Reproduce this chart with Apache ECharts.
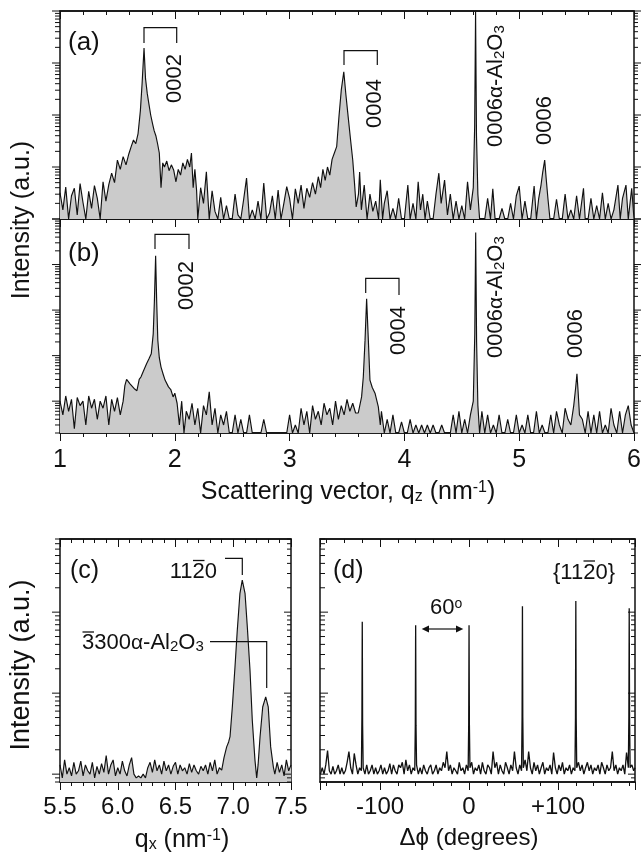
<!DOCTYPE html>
<html><head><meta charset="utf-8">
<script src="https://cdn.jsdelivr.net/npm/echarts@6/dist/echarts.min.js"></script>
<style>html,body{margin:0;padding:0;background:#fff}#c{width:642px;height:857px}</style>
</head><body><div id="c"></div>
<script>
// ---------- DATA ----------
// (a) specular scan, [qz (nm^-1), intensity (a.u.)]
const scanA = [
[1.000,3.2],[1.025,1.5],[1.050,4.1],[1.075,1.0],[1.100,2.8],[1.125,3.9],[1.150,1.2],[1.175,4.8],[1.200,2.1],[1.225,1.0],
[1.250,3.4],[1.275,1.6],[1.300,4.4],[1.325,2.5],[1.350,1.0],[1.375,5.2],[1.400,2.2],[1.425,4.6],[1.450,7.6],[1.475,5.0],
[1.500,13.6],[1.525,9.0],[1.550,15.8],[1.575,11.0],[1.600,18.0],[1.620,24.6],[1.640,33],[1.660,28],[1.680,44],[1.700,120],
[1.715,400],[1.732,1950],[1.745,500],[1.760,260],[1.775,160],[1.790,100],[1.805,70],[1.820,50],[1.835,40],[1.850,28],
[1.865,18.6],[1.880,4.0],[1.895,12],[1.910,10],[1.930,13],[1.950,8.5],[1.970,11],[1.990,8.8],[2.010,5.2],[2.030,9],
[2.050,7],[2.070,12],[2.090,9],[2.110,14],[2.130,10],[2.145,18.6],[2.160,4.0],[2.175,9],[2.190,3.5],[2.200,1.0],
[2.225,4.0],[2.250,2.0],[2.275,8.1],[2.300,1.0],[2.325,3.5],[2.350,1.4],[2.375,1.0],[2.400,2.6],[2.425,1.0],[2.450,1.8],
[2.475,1.0],[2.500,1.0],[2.525,3.0],[2.550,1.2],[2.575,1.0],[2.600,2.4],[2.625,6.1],[2.650,1.0],[2.675,1.5],[2.700,1.0],
[2.725,2.2],[2.750,1.0],[2.775,4.9],[2.800,1.0],[2.825,1.3],[2.850,2.8],[2.875,1.0],[2.900,3.6],[2.925,1.0],[2.950,2.0],
[2.975,4.2],[3.000,2.5],[3.025,1.0],[3.050,3.8],[3.075,2.0],[3.100,4.5],[3.125,1.6],[3.150,3.9],[3.175,2.6],[3.200,5.0],
[3.225,3.0],[3.250,6.5],[3.270,4.0],[3.290,9.0],[3.310,5.5],[3.330,10],[3.350,7],[3.370,14],[3.390,18.6],[3.410,24.6],
[3.430,93],[3.450,300],[3.472,680],[3.490,250],[3.510,93],[3.530,35],[3.550,13.6],[3.565,5],[3.580,1.7],[3.600,3.0],
[3.610,8.0],[3.625,1.5],[3.650,4.5],[3.675,1.0],[3.700,3.0],[3.725,1.4],[3.750,2.2],[3.775,1.0],[3.790,5.7],[3.810,1.0],
[3.825,2.0],[3.850,3.5],[3.875,1.0],[3.900,1.6],[3.925,1.0],[3.950,2.5],[3.975,1.0],[4.000,1.0],[4.030,4.5],[4.050,1.0],
[4.075,2.0],[4.100,1.0],[4.120,5.2],[4.140,1.5],[4.160,3.0],[4.180,1.0],[4.200,2.2],[4.225,1.0],[4.250,1.0],[4.275,3.0],
[4.300,7.6],[4.320,2.0],[4.350,5.6],[4.375,1.2],[4.400,3.0],[4.425,1.0],[4.450,2.2],[4.475,1.0],[4.500,1.8],[4.525,1.0],
[4.550,5.2],[4.575,1.5],[4.600,4],[4.612,60],[4.620,9800],[4.628,40],[4.640,3],[4.655,1.0],[4.675,1.0],[4.700,1.0],
[4.725,2.5],[4.750,1.0],[4.770,3.8],[4.790,1.0],[4.825,1.0],[4.850,1.6],[4.875,1.0],[4.900,1.0],[4.925,2.0],[4.950,1.0],
[4.975,2.8],[5.000,4.3],[5.025,1.0],[5.050,2.2],[5.075,1.0],[5.100,1.0],[5.130,4.3],[5.150,1.0],[5.170,2.5],[5.190,4.5],
[5.205,8],[5.222,13.6],[5.235,6],[5.250,2.5],[5.268,1.0],[5.300,1.0],[5.325,2.4],[5.350,1.0],[5.375,1.0],[5.400,3.0],
[5.425,1.0],[5.450,1.5],[5.475,1.0],[5.500,2.8],[5.525,1.0],[5.560,3.9],[5.575,1.0],[5.600,1.0],[5.625,2.5],[5.650,1.0],
[5.675,1.8],[5.700,1.0],[5.725,3.2],[5.750,1.0],[5.775,2.0],[5.800,1.0],[5.825,1.5],[5.860,4.5],[5.880,1.0],[5.900,2.5],
[5.930,4.5],[5.950,1.0],[5.980,3.9],[6.000,1.0]
];
// (b) specular scan, [qz, intensity]
const scanB = [
[1.000,1.0],[1.025,0.5],[1.050,1.3],[1.075,0.6],[1.100,1.1],[1.125,0.25],[1.150,1.2],[1.175,0.8],[1.200,1.0],[1.225,0.3],
[1.250,1.3],[1.275,0.7],[1.300,1.1],[1.325,0.4],[1.350,1.0],[1.375,0.7],[1.400,1.3],[1.425,0.3],[1.450,1.1],[1.475,0.6],
[1.500,1.2],[1.525,0.5],[1.550,1.0],[1.565,2.2],[1.580,3.0],[1.595,3.2],[1.610,2.4],[1.625,2.6],[1.645,1.9],[1.670,1.7],
[1.690,3.0],[1.705,3.4],[1.725,4.5],[1.740,5.5],[1.755,6.7],[1.775,8.5],[1.795,11],[1.812,30],[1.822,150],[1.833,1560],
[1.842,160],[1.852,22],[1.865,9],[1.880,5.6],[1.900,3.8],[1.915,2.9],[1.930,3.2],[1.945,2.06],[1.965,1.8],[1.985,1.24],
[2.000,1.5],[2.020,0.9],[2.040,0.3],[2.060,1.0],[2.080,0.2],[2.100,0.6],[2.125,0.4],[2.150,0.9],[2.175,0.3],[2.200,0.7],
[2.225,0.2],[2.250,0.8],[2.275,0.5],[2.300,1.6],[2.325,0.3],[2.350,0.7],[2.375,0.2],[2.400,0.5],[2.425,0.3],[2.450,0.6],
[2.475,0.2],[2.500,0.2],[2.525,0.5],[2.550,0.2],[2.575,0.4],[2.600,0.2],[2.625,0.2],[2.650,0.5],[2.675,0.2],[2.700,0.2],
[2.725,0.2],[2.750,0.2],[2.775,0.4],[2.800,0.2],[2.825,0.2],[2.850,0.2],[2.875,0.2],[2.900,0.2],[2.925,0.2],[2.950,0.2],
[2.975,0.2],[3.000,0.5],[3.025,0.2],[3.050,0.3],[3.075,0.2],[3.100,0.7],[3.125,0.3],[3.150,0.6],[3.175,0.2],[3.200,0.8],
[3.225,0.4],[3.250,0.6],[3.275,0.3],[3.300,0.9],[3.325,0.5],[3.350,0.7],[3.375,0.3],[3.400,1.0],[3.425,0.4],[3.450,0.8],
[3.475,0.5],[3.500,1.1],[3.525,0.6],[3.550,0.9],[3.575,0.55],[3.598,0.55],[3.627,1.24],[3.642,3.4],[3.657,21.6],[3.671,177],
[3.686,21.6],[3.700,2.9],[3.720,2.0],[3.744,1.5],[3.773,0.75],[3.790,0.3],[3.800,0.6],[3.825,0.2],[3.850,0.4],[3.875,0.2],
[3.900,0.5],[3.925,0.2],[3.950,0.2],[3.975,0.35],[4.000,0.2],[4.025,0.2],[4.050,0.4],[4.075,0.2],[4.100,0.3],[4.125,0.2],
[4.150,0.3],[4.175,0.2],[4.200,0.3],[4.225,0.2],[4.250,0.3],[4.275,0.2],[4.300,0.2],[4.325,0.3],[4.350,0.2],[4.375,0.2],
[4.400,0.2],[4.425,0.5],[4.450,0.2],[4.475,0.6],[4.500,0.2],[4.525,0.4],[4.550,0.2],[4.575,0.5],[4.600,1.0],[4.613,30],
[4.621,5060],[4.629,20],[4.640,0.8],[4.655,0.2],[4.675,0.6],[4.700,0.2],[4.725,0.5],[4.750,0.2],[4.775,0.3],[4.800,0.2],
[4.825,0.5],[4.850,0.2],[4.875,0.2],[4.900,0.4],[4.925,0.2],[4.950,0.2],[4.975,0.5],[5.000,0.2],[5.025,0.3],[5.050,0.2],
[5.075,0.5],[5.100,0.2],[5.125,0.2],[5.150,0.6],[5.175,0.2],[5.200,0.3],[5.225,0.2],[5.250,0.2],[5.275,0.5],[5.300,0.2],
[5.325,0.6],[5.350,0.3],[5.375,0.2],[5.400,0.7],[5.425,0.4],[5.450,0.3],[5.475,0.8],[5.492,2.0],[5.503,4.0],[5.512,1.8],
[5.525,0.5],[5.550,0.4],[5.575,0.2],[5.600,0.6],[5.625,0.2],[5.650,0.5],[5.675,0.2],[5.700,0.6],[5.725,0.2],[5.750,0.3],
[5.775,0.2],[5.800,0.7],[5.825,0.3],[5.850,0.2],[5.875,0.6],[5.900,0.2],[5.925,0.5],[5.950,0.8],[5.975,0.3],[6.000,0.2]
];
// (c) in-plane radial scan, [qx (nm^-1), intensity]
const scanC = [
[5.50,1.3],[5.52,0.9],[5.54,1.5],[5.56,1.0],[5.58,1.2],[5.60,0.95],[5.62,1.4],[5.64,1.0],[5.66,1.1],[5.68,1.45],
[5.70,0.95],[5.72,1.3],[5.74,1.1],[5.76,1.0],[5.78,1.4],[5.80,0.9],[5.82,1.25],[5.84,1.0],[5.86,1.35],[5.88,1.05],
[5.90,1.7],[5.92,1.0],[5.94,1.3],[5.96,1.5],[5.98,0.95],[6.00,1.2],[6.02,1.0],[6.04,1.45],[6.06,1.1],[6.08,0.95],
[6.10,1.3],[6.12,1.6],[6.14,1.0],[6.16,0.9],[6.18,0.95],[6.20,0.9],[6.22,1.0],[6.24,0.9],[6.26,1.2],[6.28,1.4],
[6.30,1.05],[6.32,1.5],[6.34,1.1],[6.36,1.3],[6.38,1.0],[6.40,1.45],[6.42,1.1],[6.44,1.3],[6.46,1.0],[6.48,1.25],
[6.50,1.4],[6.52,1.0],[6.54,1.3],[6.56,1.1],[6.58,1.2],[6.60,1.0],[6.62,1.35],[6.64,1.05],[6.66,1.3],[6.68,1.1],
[6.70,1.0],[6.72,1.25],[6.74,1.1],[6.76,1.3],[6.78,1.0],[6.80,1.4],[6.82,1.1],[6.84,1.5],[6.86,1.0],[6.88,1.2],
[6.90,1.12],[6.92,1.6],[6.943,2.17],[6.96,2.5],[6.972,2.9],[6.992,6.75],[7.015,21],[7.035,60],[7.058,171],[7.078,248],
[7.102,171],[7.122,65],[7.145,19.2],[7.165,4.6],[7.188,1.49],[7.203,0.9],[7.215,1.3],[7.232,2.9],[7.255,6.75],[7.281,9.0],
[7.303,6.75],[7.324,2.17],[7.347,1.23],[7.36,1.0],[7.38,1.4],[7.40,1.05],[7.42,1.3],[7.44,0.95],[7.46,1.5],[7.48,1.1],[7.50,1.3]
];
// (d) azimuthal scan, [delta phi (deg), intensity]
const scanD = [
[-167,1.0],[-165,1.2],[-163,1.0],[-161,1.3],[-159,1.95],[-157,1.1],[-155,1.0],[-153,1.25],[-151,1.0],[-149,1.1],
[-147,1.3],[-145,1.0],[-143,1.2],[-141,1.0],[-139,1.1],[-137,1.4],[-135,1.9],[-133,1.2],[-131,1.0],[-129,1.8],
[-127,1.3],[-125,1.0],[-123,1.2],[-121,1.1],[-120.4,5],[-120,76],[-119.6,4],[-119,1.2],[-117,1.0],[-115,1.3],
[-113,1.0],[-111,1.1],[-109,1.3],[-107,1.0],[-105,1.2],[-103,1.0],[-101,1.1],[-99,1.3],[-97,1.0],[-95,1.2],
[-93,1.0],[-91,1.1],[-89,1.35],[-87,1.0],[-85,1.3],[-83,1.1],[-81,1.0],[-79,1.3],[-77,1.2],[-75,1.4],
[-73,1.0],[-71,1.5],[-69,1.1],[-67,1.3],[-65,1.0],[-63,1.2],[-61,1.1],[-60.4,4],[-60,69],[-59.6,4],
[-59,1.3],[-57,1.0],[-55,1.2],[-53,1.0],[-51,1.3],[-49,1.1],[-47,1.0],[-45,1.2],[-43,1.3],[-41,1.0],
[-39,1.1],[-37,1.3],[-35,1.0],[-33,1.2],[-31,1.1],[-29,1.4],[-27,1.2],[-25,1.9],[-23,1.1],[-21,1.3],
[-19,1.0],[-17,1.2],[-15,1.1],[-13,1.0],[-11,1.4],[-9,1.1],[-7,1.2],[-5,1.0],[-3,1.3],[-1,1.1],
[-0.4,4],[0,69],[0.4,4],[1,1.2],[3,1.4],[5,1.0],[7,1.2],[9,1.1],[11,1.3],[13,1.0],
[15,1.4],[17,1.1],[19,1.0],[21,1.3],[23,1.2],[25,1.0],[27,1.9],[29,1.2],[31,1.4],[33,1.0],
[35,1.3],[37,1.1],[39,1.0],[41,1.4],[43,1.2],[45,1.0],[47,1.3],[49,1.1],[51,1.9],[53,1.2],
[55,1.0],[57,1.3],[59,1.1],[59.6,5],[60,118],[60.4,5],[61,1.2],[63,1.5],[65,1.1],[67,1.9],
[69,1.2],[71,1.0],[73,1.4],[75,1.1],[77,1.3],[79,1.0],[81,1.2],[83,1.4],[85,1.0],[87,1.2],
[89,1.1],[91,1.3],[93,1.0],[95,1.85],[97,1.2],[99,1.0],[101,1.3],[103,1.1],[105,1.4],[107,1.0],
[109,1.2],[111,1.1],[113,1.3],[115,1.0],[117,1.2],[119,1.1],[119.6,5],[120,137],[120.4,5],[121,1.2],
[123,1.4],[125,1.1],[127,1.3],[129,1.0],[131,1.2],[133,1.4],[135,1.1],[137,1.3],[139,1.0],[141,1.2],
[143,1.1],[145,1.3],[147,1.0],[149,1.4],[151,1.2],[153,1.0],[155,1.3],[157,1.1],[159,1.2],[161,1.9],
[163,1.1],[165,1.3],[167,1.0],[169,1.2],[171,1.1],[173,1.3],[175,1.0],[177,1.85],[179,1.2],[179.6,5],
[180,112],[180.4,5],[181,1.2],[183,1.3],[185,1.1],[186.5,1.2]
];
// tick labels
const qzTicks = [1, 2, 3, 4, 5, 6];
const qzLabels = ['1', '2', '3', '4', '5', '6'];
const qxTicks = [5.5, 6.0, 6.5, 7.0, 7.5];
const qxLabels = ['5.5', '6.0', '6.5', '7.0', '7.5'];
const phiTicks = [-100, 0, 100];
const phiLabels = ['-100', '0', '+100'];

// ---------- CHART ----------
const FONT = '"Liberation Sans", Arial, Helvetica, sans-serif';
const INK = '#111';
const chart = echarts.init(document.getElementById('c'), null, {renderer: 'canvas'});

function lab(ticks, labels) {
  return v => { const i = ticks.findIndex(t => Math.abs(t - v) < 1e-6); return i >= 0 ? labels[i] : ''; };
}
function xa(gi, pos, min, max, extra) {
  return Object.assign({
    type: 'value', gridIndex: gi, position: pos, min: min, max: max,
    axisLine: {show: true, onZero: false, lineStyle: {color: INK, width: 1.5}},
    axisTick: {show: true, inside: pos === 'top', length: 8, lineStyle: {color: INK, width: 1}},
    minorTick: {show: true, splitNumber: 5, length: 4, lineStyle: {color: INK, width: 1}},
    axisLabel: {show: false}, splitLine: {show: false}, minorSplitLine: {show: false}
  }, extra || {});
}
function ya(gi, min, max) {
  return {type: 'log', logBase: 10, gridIndex: gi, min: min, max: max,
    axisLine: {show: false}, axisTick: {show: false}, axisLabel: {show: false}, splitLine: {show: false}};
}
function logTickValues(lo, hi) {
  const out = [];
  for (let d = Math.floor(Math.log10(lo)); d <= Math.ceil(Math.log10(hi)); d++) {
    for (let m = 1; m <= 9; m++) {
      const v = m * Math.pow(10, d);
      if (v >= lo * 0.999 && v <= hi * 1.001) out.push([v, m === 1 ? 1 : 0]);
    }
  }
  return out;
}
// y-axis log ticks (major decades + 2..9 minors) drawn through the axis scale
function ySeries(xi, yi, xAt, lo, hi, leftDir, rightDir) {
  return {
    type: 'custom', xAxisIndex: xi, yAxisIndex: yi, silent: true, clip: false, z: 5, animation: false,
    data: logTickValues(lo, hi).map(t => [xAt, t[0], t[1]]),
    renderItem: function (params, api) {
      const cs = params.coordSys;
      const y = api.coord([api.value(0), api.value(1)])[1];
      const major = api.value(2) === 1;
      const L = major ? 8 : 5, R = major ? 7 : 4;
      return {type: 'group', children: [
        {type: 'line', shape: {x1: cs.x, y1: y, x2: cs.x + leftDir * L, y2: y}, style: {stroke: INK, lineWidth: 1}},
        {type: 'line', shape: {x1: cs.x + cs.width, y1: y, x2: cs.x + cs.width + rightDir * R, y2: y}, style: {stroke: INK, lineWidth: 1}}
      ]};
    }
  };
}
function lineSeries(xi, yi, data, filled, w) {
  const s = {type: 'line', xAxisIndex: xi, yAxisIndex: yi, data: data, symbol: 'none', showSymbol: false,
    lineStyle: {color: INK, width: w || 1.15}, clip: true, animation: false, z: 2};
  if (filled) s.areaStyle = {color: '#cbcbcb', opacity: 1, origin: 'start'};
  return s;
}
const gridBase = {show: true, borderColor: INK, borderWidth: 1.5, backgroundColor: 'transparent', containLabel: false, outerBoundsMode: 'none'};

// annotation helpers
const AF = 22;
function vtext(x, yb, text) {
  return {type: 'text', x: x, y: yb, rotation: Math.PI / 2, z: 50,
    style: {text: text, fontSize: AF, fontFamily: FONT, fill: INK, align: 'left', verticalAlign: 'middle',
      textAlign: 'left', textVerticalAlign: 'middle',
      rich: {g: {fontSize: AF - 1, fontFamily: FONT, fill: INK}, s: {fontSize: 15, fontFamily: FONT, fill: INK, verticalAlign: 'bottom'}}}};
}
function htext(x, y, text, align, size, rich) {
  return {type: 'text', x: x, y: y, z: 50,
    style: {text: text, fontSize: size, fontFamily: FONT, fill: INK, align: align, verticalAlign: 'middle',
      textAlign: align, textVerticalAlign: 'middle', rich: rich || {}}};
}
function pline(points, w) {
  return {type: 'polyline', z: 50, shape: {points: points}, style: {stroke: INK, lineWidth: w || 1.2, fill: null}};
}
const richAx = {
  s: {fontSize: 16, fontFamily: FONT, fill: INK, verticalAlign: 'bottom'},
  p: {fontSize: 16, fontFamily: FONT, fill: INK, verticalAlign: 'top'},
  g: {fontSize: 21, fontFamily: FONT, fill: INK},
  o: {fontSize: 14, fontFamily: FONT, fill: INK, verticalAlign: 'top'}
};

const option = {
  backgroundColor: '#fff',
  animation: false,
  grid: [
    Object.assign({left: 60, top: 11, width: 574, height: 208}, gridBase),
    Object.assign({left: 60, top: 219, width: 574, height: 214}, gridBase),
    Object.assign({left: 60, top: 539, width: 231, height: 243}, gridBase),
    Object.assign({left: 320, top: 539, width: 315, height: 243}, gridBase)
  ],
  xAxis: [
    xa(0, 'bottom', 1, 6, {interval: 1}),
    xa(0, 'top', 1, 6, {interval: 1}),
    xa(1, 'bottom', 1, 6, {interval: 1, axisLabel: {show: true, fontSize: 25, fontFamily: FONT, color: INK, margin: 15, formatter: lab(qzTicks, qzLabels)}}),
    xa(2, 'bottom', 5.5, 7.5, {interval: 0.5, axisLabel: {show: true, fontSize: 24, fontFamily: FONT, color: INK, margin: 13, formatter: lab(qxTicks, qxLabels)}}),
    xa(2, 'top', 5.5, 7.5, {interval: 0.5}),
    xa(3, 'bottom', -167.5, 186.5, {splitNumber: 4, axisLabel: {show: true, fontSize: 24, fontFamily: FONT, color: INK, margin: 13, showMinLabel: false, showMaxLabel: false, formatter: lab(phiTicks, phiLabels)}}),
    xa(3, 'top', -167.5, 186.5, {splitNumber: 4})
  ],
  yAxis: [
    ya(0, 1, 10000),
    ya(1, 0.2, 10000),
    ya(2, 0.8, 800),
    ya(3, 0.8, 800)
  ],
  series: [
    lineSeries(0, 0, scanA, true),
    lineSeries(2, 1, scanB, true),
    lineSeries(3, 2, scanC, true),
    lineSeries(5, 3, scanD, false, 1.3),
    ySeries(0, 0, 1, 1, 10000, -1, 1),
    ySeries(2, 1, 1, 0.2, 10000, -1, 1),
    ySeries(3, 2, 5.5, 0.8, 800, -1, -1),
    ySeries(5, 3, 0, 0.8, 800, 1, -1)
  ],
  graphic: [
    // axis titles
    {type: 'text', x: 22, y: 220, rotation: Math.PI / 2, z: 50,
      style: {text: 'Intensity (a.u.)', fontSize: 25, fontFamily: FONT, fill: INK, align: 'center', verticalAlign: 'middle', textAlign: 'center', textVerticalAlign: 'middle'}},
    {type: 'text', x: 22, y: 665, rotation: Math.PI / 2, z: 50,
      style: {text: 'Intensity (a.u.)', fontSize: 27, fontFamily: FONT, fill: INK, align: 'center', verticalAlign: 'middle', textAlign: 'center', textVerticalAlign: 'middle'}},
    htext(348, 492, 'Scattering vector, q{s|z} (nm{p|-1})', 'center', 25, richAx),
    htext(182, 840, 'q{s|x} (nm{p|-1})', 'center', 25, richAx),
    htext(469, 838, 'Δϕ (degrees)', 'center', 24, richAx),
    // panel letters
    htext(68, 43, '(a)', 'left', 26),
    htext(68, 254, '(b)', 'left', 26),
    htext(70, 571, '(c)', 'left', 25),
    htext(333, 571, '(d)', 'left', 25),
    // (a) annotations
    pline([[144, 43], [144, 27.7], [176.7, 27.7], [176.7, 43]]),
    vtext(175, 103, '0002'),
    pline([[344, 65], [344, 50.7], [377.3, 50.7], [377.3, 65]]),
    vtext(375, 128, '0004'),
    vtext(496, 147, '0006{g|α}-Al{s|2}O{s|3}'),
    vtext(545, 145, '0006'),
    // (b) annotations
    pline([[155, 249], [155, 234.3], [189, 234.3], [189, 249]]),
    vtext(187, 310, '0002'),
    pline([[365.7, 293], [365.7, 278.3], [399, 278.3], [399, 295]]),
    vtext(399, 355, '0004'),
    vtext(496, 358, '0006{g|α}-Al{s|2}O{s|3}'),
    vtext(576, 358, '0006'),
    // (c) annotations
    htext(217, 572, '1120', 'right', AF),
    pline([[193, 560.5], [204.5, 560.5]], 1.3),
    pline([[225, 558.3], [242.3, 558.3], [242.3, 575]]),
    htext(82, 643, '3300{g|α}-Al{s|2}O{s|3}', 'left', AF, {g: {fontSize: AF - 1, fontFamily: FONT, fill: INK}, s: {fontSize: 15, fontFamily: FONT, fill: INK, verticalAlign: 'bottom'}}),
    pline([[82.5, 632], [94, 632]], 1.3),
    pline([[210, 641.7], [266.7, 641.7], [266.7, 688]]),
    // (d) annotations
    htext(615, 573, '{1120}', 'right', AF),
    pline([[583.5, 561], [595, 561]], 1.3),
    htext(430, 608, '60{o|o}', 'left', AF, richAx),
    pline([[427, 629], [458, 629]], 1.2),
    {type: 'polygon', z: 50, shape: {points: [[421.7, 629], [429, 625.5], [429, 632.5]]}, style: {fill: INK}},
    {type: 'polygon', z: 50, shape: {points: [[463.3, 629], [456, 625.5], [456, 632.5]]}, style: {fill: INK}}
  ]
};
chart.setOption(option);
</script>
</body></html>
